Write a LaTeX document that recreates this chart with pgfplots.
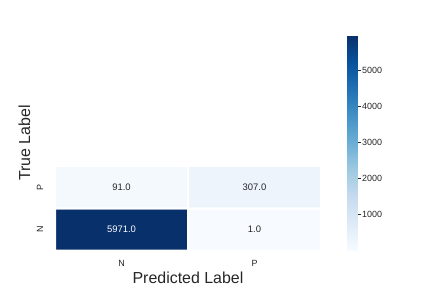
\documentclass[border=0pt]{standalone}
\usepackage{fontspec}
\setmainfont{Liberation Sans}
\usepackage{pgfplots}
\pgfplotsset{compat=1.18}
\definecolor{txt}{HTML}{262626}
\pgfplotsset{colormap={blues}{rgb255=(247,251,255) rgb255=(222,235,247) rgb255=(198,219,239) rgb255=(158,202,225) rgb255=(107,174,214) rgb255=(66,146,198) rgb255=(33,113,181) rgb255=(8,81,156) rgb255=(8,48,107)}}
\begin{document}
\begin{tikzpicture}
\path[use as bounding box] (0,0) rectangle (432bp,288bp);
\begin{axis}[
  at={(55bp,37.3bp)}, anchor=south west,
  scale only axis, width=266bp, height=84.7bp,
  xmin=-0.5, xmax=1.5, ymin=-0.5, ymax=1.5,
  axis line style={draw=none},
  xtick={0,1}, xticklabels={N,P},
  ytick={0,1}, yticklabels={N,P},
  major tick style={draw=none},
  tick label style={font=\fontsize{9}{10}\selectfont, text=txt},
  xticklabel style={anchor=north, inner sep=0pt, yshift=-9bp},
  yticklabel style={xshift=-11.8bp, rotate=90, anchor=south, inner sep=0pt},
  xlabel={Predicted Label},
  ylabel={True Label},
  label style={font=\fontsize{16}{18}\selectfont, text=txt},
  xlabel style={at={(axis description cs:0.5,-0.322)}, anchor=center},
  ylabel style={at={(axis description cs:-0.1147,1.2715)}, anchor=center},
  colormap name=blues,
  point meta min=1, point meta max=5971,
  colorbar,
  colorbar style={
    at={(parent axis.south east)}, anchor=south west, xshift=18bp,
    width=10bp, height=215.7bp,
    ytick={1000,2000,3000,4000,5000},
    axis line style={draw=none},
    ytick pos=right, yticklabel pos=right,
    tick align=outside, major tick length=3.5bp,
    major tick style={draw=txt, line width=0.8bp},
    yticklabel style={font=\fontsize{9}{10}\selectfont, text=txt, inner sep=0pt, xshift=1bp},
    /pgf/number format/assume math mode=true,
    /pgf/number format/1000 sep={},
  },
]
\addplot[matrix plot*, mesh/cols=2, point meta=explicit, draw=white, line width=2bp] table[meta=v] {
x y v
0 0 5971
1 0 1
0 1 91
1 1 307
};
\addplot[draw=none, nodes near coords, point meta=explicit symbolic,
  nodes near coords style={anchor=center, font=\fontsize{9.5}{11}\selectfont, text=txt}] table[meta=t] {
x y t
1 0 1.0
0 1 91.0
1 1 307.0
};
\addplot[draw=none, nodes near coords, point meta=explicit symbolic,
  nodes near coords style={anchor=center, font=\fontsize{9.5}{11}\selectfont, text=white}] table[meta=t] {
x y t
0 0 5971.0
};
\end{axis}
\end{tikzpicture}
\end{document}
